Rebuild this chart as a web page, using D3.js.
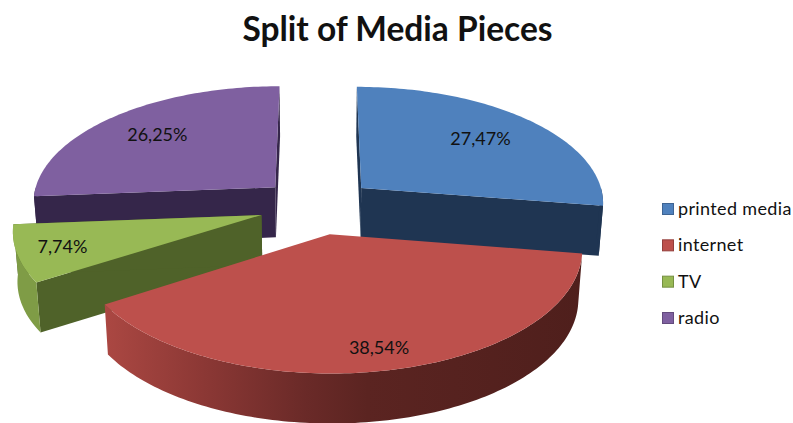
<!DOCTYPE html>
<html>
<head>
<meta charset="utf-8">
<script src="https://cdn.jsdelivr.net/npm/d3@7/dist/d3.min.js"></script>
<style>
  html, body { margin: 0; padding: 0; background: #fff; }
  svg { display: block; }
  text { font-family: Lato, "Open Sans", sans-serif; fill: #111; }
</style>
</head>
<body>
<svg id="chart" width="793" height="423"></svg>
<script>
// Share of media pieces per channel, in percent
const categories = ["printed media", "internet", "TV", "radio"];
const shares = [27.47, 38.54, 7.74, 26.25];

const topColors = ["#4f81bd", "#bd504c", "#98b955", "#7f60a0"];
const cutColors = ["#1f3552", "#7a2f2c", "#4f6229", "#35264a"];
const rimColors = ["#1f3552", "url(#redRim)", "#7f9c46", "#35264a"];

// Layout of the tilted pie
const cx = 317.5, cy = 206;
const radiusX = 244, radiusY = 116.6;
const perspective = 0.1135;
const explode = 0.24;
const thickness = 50;
const bottomShrink = 0.985;
const labelReach = [0.7, 0.85, 0.82, 0.72];

const svg = d3.select("#chart");

const percent = d3.formatLocale({ decimal: ",", thousands: ".", grouping: [3], currency: ["", ""] }).format(".2f");
const topColor = d3.scaleOrdinal(categories, topColors);
const cutColor = d3.scaleOrdinal(categories, cutColors);
const rimColor = d3.scaleOrdinal(categories, rimColors);

const slices = d3.pie().sort(null).value(d => d.value)(
  categories.map((name, i) => ({ name, value: shares[i], reach: labelReach[i] }))
);

// Project a point of a slice, given by radius and angle, from the pie plane to the page
function project(slice, r, angle, lower) {
  const mid = (slice.startAngle + slice.endAngle) / 2;
  const X = explode * Math.sin(mid) + r * Math.sin(angle);
  const V = explode * Math.cos(mid) + r * Math.cos(angle);
  const s = 1 / (1 + perspective * V);
  const x = radiusX * X * s;
  const y = -radiusY * V * s;
  return lower
    ? [cx + x * bottomShrink, cy + y + thickness]
    : [cx + x, cy + y];
}

const line = d3.line();
const closed = pts => line(pts) + "Z";

function arcAngles(a0, a1) {
  const n = Math.max(2, Math.ceil(Math.abs(a1 - a0) / 0.02));
  return d3.range(n + 1).map(i => a0 + (a1 - a0) * i / n);
}

const topFace = d => closed([
  project(d, 0, d.startAngle),
  ...arcAngles(d.startAngle, d.endAngle).map(a => project(d, 1, a))
]);

const cutFace = (d, angle) => closed([
  project(d, 0, angle),
  project(d, 1, angle),
  project(d, 1, angle, true),
  project(d, 0, angle, true)
]);

// The outer wall is only visible on the near half of the circle
const rimFace = d => {
  const a0 = Math.max(d.startAngle, Math.PI / 2);
  const a1 = Math.min(d.endAngle, Math.PI * 1.5);
  if (a1 <= a0) return null;
  const angles = arcAngles(a0, a1);
  return closed([
    ...angles.map(a => project(d, 1, a)),
    ...angles.slice().reverse().map(a => project(d, 1, a, true))
  ]);
};

// Shading of the curved red wall, lit from the left
const redRim = svg.append("defs").append("linearGradient")
  .attr("id", "redRim")
  .attr("gradientUnits", "userSpaceOnUse")
  .attr("x1", 108).attr("x2", 580).attr("y1", 0).attr("y2", 0);
[[0, "#aa4742"], [0.2, "#8c3835"], [0.42, "#6a2a28"], [0.55, "#5b2421"], [1, "#4f1f1c"]]
  .forEach(([o, c]) => redRim.append("stop").attr("offset", o).attr("stop-color", c));

// Paint far slices first so the nearer ones overlap them
const paintOrder = ["radio", "printed media", "TV", "internet"];
const pie = svg.append("g");

paintOrder.forEach(name => {
  const d = slices.find(s => s.data.name === name);
  const g = pie.append("g");
  // A slice that spans the front of the pie hides both of its cut faces
  const spansFront = d.startAngle < Math.PI && d.endAngle > Math.PI;
  if (!spansFront) {
    g.append("path").attr("d", cutFace(d, d.startAngle)).attr("fill", cutColor(name));
    g.append("path").attr("d", cutFace(d, d.endAngle)).attr("fill", cutColor(name));
  }
  const rim = rimFace(d);
  if (rim) g.append("path").attr("d", rim).attr("fill", rimColor(name));
  g.append("path").attr("d", topFace(d)).attr("fill", topColor(name));
});

// Value labels
svg.append("g").selectAll("text").data(slices).join("text")
  .attr("x", d => project(d, d.data.reach, (d.startAngle + d.endAngle) / 2)[0])
  .attr("y", d => project(d, d.data.reach, (d.startAngle + d.endAngle) / 2)[1] + 6)
  .attr("text-anchor", "middle")
  .style("font-size", "18px")
  .text(d => percent(d.data.value) + "%");

// Title
svg.append("text")
  .attr("x", 397.5).attr("y", 41)
  .attr("text-anchor", "middle")
  .style("font-size", "33.5px")
  .style("font-weight", "700")
  .text("Split of Media Pieces");

// Legend
const rowScale = d3.scalePoint().domain(categories).range([209, 318]);
const legend = svg.append("g").selectAll("g").data(categories).join("g")
  .attr("transform", d => `translate(662,${rowScale(d)})`);
legend.append("rect")
  .attr("x", 0.5).attr("y", -5.5).attr("width", 11).attr("height", 11)
  .attr("fill", d => topColor(d))
  .attr("stroke", d => d3.color(topColor(d)).darker(0.7));
legend.append("text")
  .attr("x", 16).attr("y", 6)
  .style("font-size", "18px")
  .style("letter-spacing", "0.35px")
  .text(d => d);
</script>
</body>
</html>
